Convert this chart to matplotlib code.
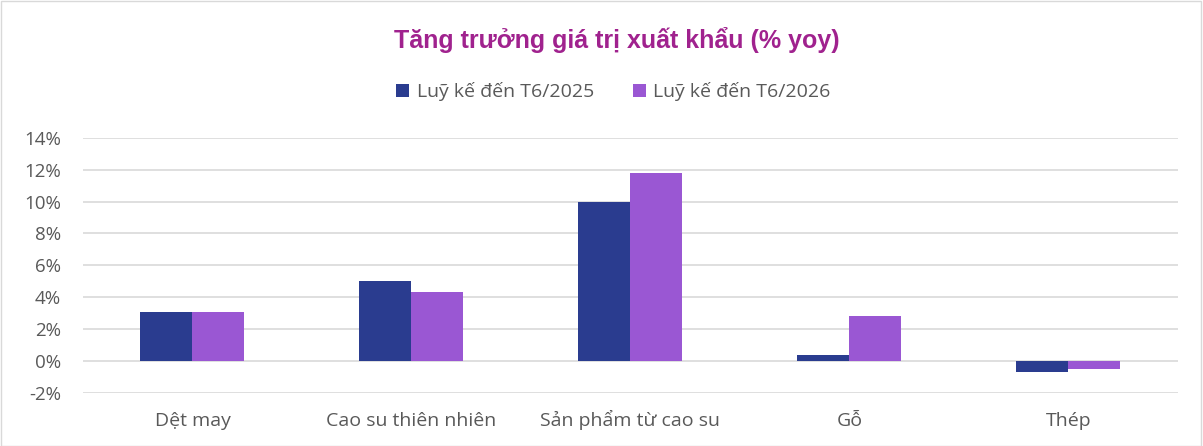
import numpy as np
import matplotlib.pyplot as plt
from matplotlib.patches import Rectangle

categories = ["Dệt may", "Cao su thiên nhiên", "Sản phẩm từ cao su", "Gỗ", "Thép"]
series_names = ["Luỹ kế đến T6/2025", "Luỹ kế đến T6/2026"]
vals_2025 = [3.1, 5.0, 10.0, 0.4, -0.7]
vals_2026 = [3.1, 4.3, 11.8, 2.8, -0.5]
yticks = [-2, 0, 2, 4, 6, 8, 10, 12, 14]

blue = "#2A3C8F"
purple = "#9A57D3"
grey_text = "#595959"

plt.rcParams['font.family'] = ['Open Sans', 'DejaVu Sans']

fig = plt.figure(figsize=(12.03, 4.46), dpi=100)
ax = fig.add_axes([0.069, 0.119, 0.910, 0.572])

x = np.arange(len(categories))
w = 0.2375
b1 = ax.bar(x - w / 2, vals_2025, w, color=blue, label=series_names[0], zorder=3)
b2 = ax.bar(x + w / 2, vals_2026, w, color=purple, label=series_names[1], zorder=3)

ax.set_xlim(-0.5, len(categories) - 0.5)
ax.set_ylim(-2, 14)
ax.set_yticks(yticks)
ax.set_yticklabels([f"{v}%" for v in yticks], fontsize=13.5, color=grey_text)
ax.set_xticks(x)
ax.set_xticklabels(categories, fontsize=14, color=grey_text)
for t in ax.get_xticklabels():
    t.set_va('baseline')
ax.tick_params(axis='both', length=0)
ax.tick_params(axis='y', pad=16)
ax.tick_params(axis='x', pad=24)
ax.grid(axis='y', color="#D9D9D9", linewidth=1.2, zorder=0)
for s in ax.spines.values():
    s.set_visible(False)

fig.text(0.513, 0.91, "Tăng trưởng giá trị xuất khẩu (% yoy)", ha='center', va='center',
         fontsize=18, fontweight='bold', color="#A0228E", family=['Liberation Sans', 'DejaVu Sans'])

fig.legend(handles=[b1, b2], loc='center', bbox_to_anchor=(0.51, 0.795), ncol=2,
           frameon=False, fontsize=14, handlelength=0.65, handleheight=0.65,
           handletextpad=0.4, columnspacing=2.0, labelcolor=grey_text)

fig.patches.append(Rectangle((0.001, 0.001), 0.997, 0.997, transform=fig.transFigure,
                             fill=False, edgecolor="#D9D9D9", linewidth=1))

fig.savefig("out.png", dpi=100)
